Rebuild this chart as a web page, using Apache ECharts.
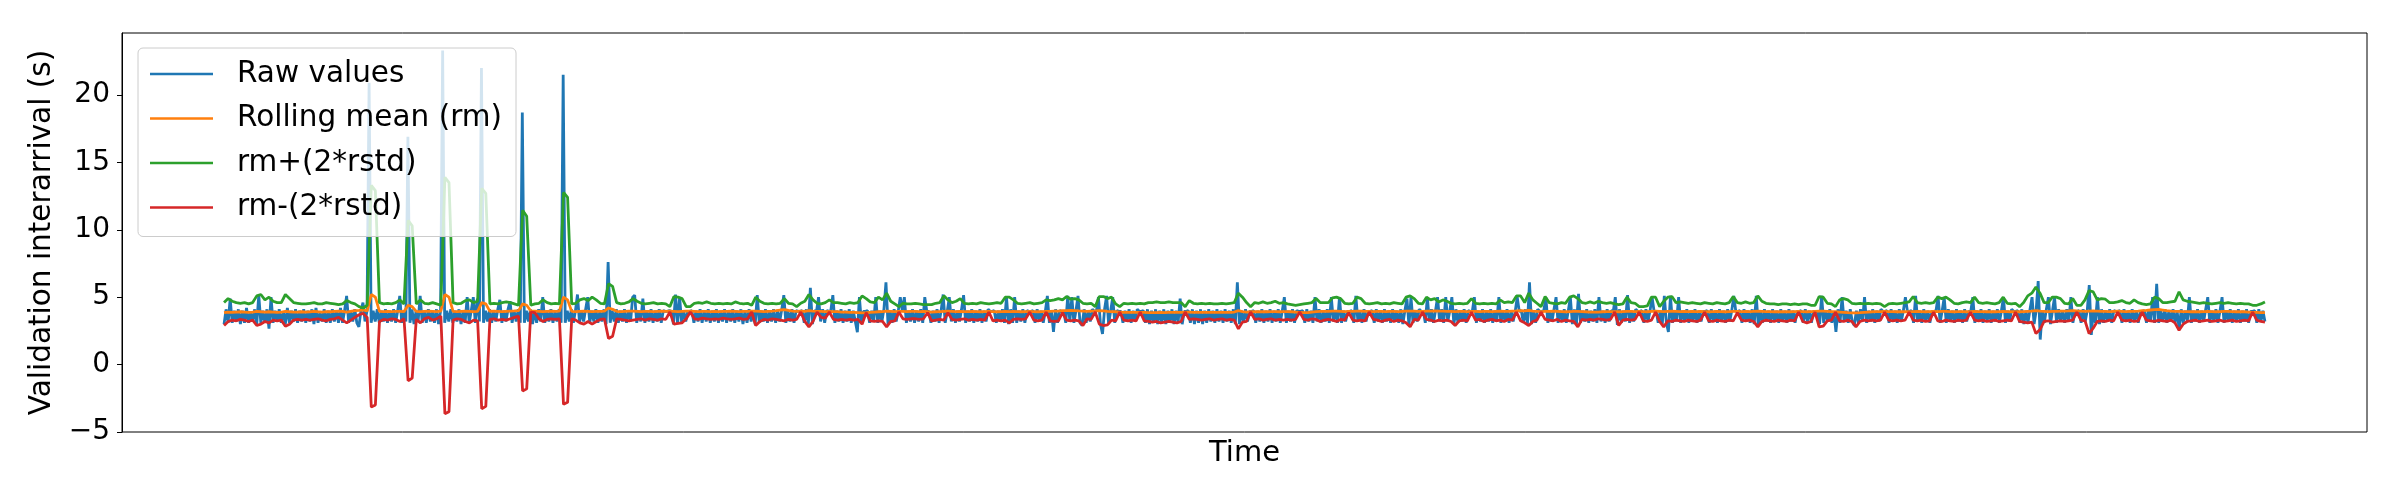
<!DOCTYPE html>
<html>
<head>
<meta charset="utf-8">
<title>Validation interarrival</title>
<script src="https://cdn.jsdelivr.net/npm/echarts@6.0.0/dist/echarts.min.js"></script>
<style>
  html, body { margin: 0; padding: 0; background: #fff; }
  #chart { width: 2400px; height: 500px; }
</style>
</head>
<body>
<div id="chart"></div>
<script>
  // raw interarrival values (1000 samples)
  const rawValues = [
    3.0,4.1,3.1,4.9,3.1,4.0,3.2,4.1,3.0,4.0,3.1,4.2,3.1,3.9,3.2,4.1,3.0,5.15,3.1,4.0,
    3.1,4.1,2.67,5.0,3.1,4.0,3.2,4.1,3.1,3.9,3.0,4.2,3.1,4.0,3.2,4.1,3.1,4.0,3.2,4.1,
    3.1,4.0,3.2,4.1,3.0,4.2,3.1,3.9,3.2,4.1,3.1,4.0,3.1,4.1,3.2,4.0,3.1,4.2,3.1,4.0,
    5.1,3.1,4.0,3.2,4.1,3.1,2.8,4.0,4.6,3.2,4.0,20.9,3.1,4.0,3.2,4.1,3.1,4.0,3.2,4.1,
    3.1,4.0,3.2,4.1,3.1,4.0,5.1,3.1,4.0,3.2,16.9,3.1,4.1,3.0,4.0,3.2,5.1,3.1,4.0,3.1,
    4.1,3.2,4.0,3.1,4.1,3.0,4.0,23.3,3.1,4.0,3.2,4.1,3.1,4.0,3.2,4.1,3.0,4.0,3.1,5.0,
    3.1,4.0,5.0,3.1,4.9,3.2,22.0,3.1,4.0,3.2,4.1,3.1,4.0,3.2,4.1,4.8,3.1,4.0,3.2,4.1,
    4.7,3.1,4.0,3.2,4.1,3.1,18.7,3.1,4.0,3.2,4.1,3.0,4.0,3.1,4.1,3.2,5.0,3.1,4.0,3.2,
    4.1,3.1,4.0,3.2,4.1,3.1,21.5,3.1,4.0,3.2,4.1,3.1,4.0,5.2,3.1,4.0,3.2,4.1,5.0,3.1,
    4.0,3.2,4.1,3.1,4.0,3.2,4.1,3.0,7.6,3.1,4.0,3.2,4.1,3.1,4.0,3.2,4.1,3.1,4.0,3.2,
    5.0,5.15,3.1,4.0,3.2,4.9,3.1,4.0,3.2,4.1,3.1,4.0,3.2,4.1,3.1,4.0,3.95,3.95,4.0,3.95,
    3.0,5.2,3.0,5.0,3.1,4.0,3.2,3.95,3.95,4.0,3.1,4.0,3.2,4.1,3.1,4.0,3.2,4.1,3.1,4.0,
    3.2,4.1,3.1,4.0,3.2,4.1,3.1,4.0,3.2,4.1,3.1,4.0,3.2,4.1,3.0,4.0,3.1,4.1,3.2,3.95,
    3.0,5.15,3.1,4.0,3.2,4.1,3.1,4.0,3.2,4.1,3.1,4.0,3.2,4.1,5.15,3.1,4.0,3.2,4.1,3.1,
    4.0,3.95,3.95,4.0,3.1,4.1,3.0,5.7,3.0,4.0,3.95,5.0,3.2,4.1,3.1,4.0,3.95,4.0,5.15,3.1,
    4.0,3.2,4.1,3.1,4.0,3.2,4.1,3.1,4.0,3.2,2.4,5.0,3.1,3.95,3.95,4.0,3.1,4.0,3.2,5.0,
    3.1,4.0,3.2,4.1,6.1,3.0,4.0,3.1,4.1,3.2,3.95,5.0,4.0,5.0,3.1,4.0,3.2,4.1,3.1,4.0,
    3.2,4.1,3.1,5.0,3.95,3.95,3.1,4.0,3.2,4.1,3.1,4.0,5.2,3.1,3.95,5.0,3.2,4.1,3.1,4.0,
    3.2,4.1,5.15,3.1,4.0,3.2,4.1,3.1,4.0,3.2,4.1,3.1,4.0,3.2,4.1,3.95,3.95,4.0,3.1,4.0,
    3.2,4.1,3.1,5.0,3.0,4.1,3.1,5.0,3.1,4.0,3.2,4.1,3.1,4.0,3.95,3.95,4.0,3.1,4.1,3.2,
    4.0,3.1,3.95,5.1,3.1,4.0,2.42,4.1,3.1,4.0,3.95,3.95,3.1,5.1,3.2,5.0,3.1,4.0,5.1,3.1,
    2.9,4.1,3.1,4.0,3.2,4.1,3.95,3.95,5.0,3.0,2.27,4.1,5.1,3.0,4.0,5.0,3.1,4.0,3.95,3.95,
    3.1,4.0,3.2,4.1,3.1,4.0,3.2,4.1,3.95,3.95,4.0,3.1,4.1,3.0,4.0,3.1,4.1,3.0,4.0,3.1,
    4.1,3.0,4.0,3.1,4.1,3.0,4.0,3.1,4.9,3.0,3.95,3.95,4.0,3.1,4.1,3.0,4.0,3.1,4.1,3.0,
    4.0,3.1,4.1,3.2,4.0,3.1,4.1,3.2,4.0,3.1,4.1,3.2,4.0,3.1,4.1,3.0,6.1,3.0,4.0,3.1,
    4.1,3.2,3.95,3.95,4.0,3.1,4.0,3.2,4.1,3.1,4.0,3.2,4.1,3.1,4.0,3.2,4.1,3.1,4.0,5.0,
    3.1,4.0,3.2,4.1,3.1,4.0,3.95,3.95,4.0,3.1,4.1,3.2,4.0,3.1,5.0,3.2,4.1,3.1,4.0,3.2,
    4.1,3.1,5.0,3.2,4.0,3.1,5.0,3.1,4.0,3.2,3.95,3.95,4.0,3.1,5.1,3.2,4.0,3.1,4.1,3.2,
    3.95,3.95,4.0,3.1,4.1,3.2,4.0,3.1,4.1,3.2,4.0,3.1,4.1,3.2,4.0,3.1,4.1,3.0,4.0,4.9,
    2.9,5.0,3.1,4.0,3.2,4.1,3.95,3.95,3.1,5.0,3.2,4.1,3.1,4.0,5.0,3.2,4.1,3.1,5.0,3.2,
    4.0,5.0,3.0,4.1,3.1,4.0,3.2,4.1,3.1,4.0,3.95,3.95,5.0,3.1,4.0,3.2,4.1,3.1,4.0,3.2,
    4.1,3.1,4.0,3.2,5.0,3.1,4.0,3.2,4.1,3.1,4.0,3.2,3.95,5.0,3.95,4.0,3.1,4.1,3.0,6.1,
    3.0,4.0,3.1,4.1,3.95,3.95,4.0,5.0,3.1,4.0,3.2,4.1,5.0,3.1,4.0,3.2,4.1,3.1,4.0,5.0,
    3.0,4.1,3.0,5.25,3.1,4.0,3.2,4.1,3.1,4.0,3.2,4.1,3.1,5.0,3.2,4.0,3.1,4.1,3.2,4.0,
    3.95,5.0,2.95,4.1,3.1,4.0,3.2,5.15,3.1,4.0,3.2,4.1,3.95,3.95,4.0,3.1,4.1,3.2,4.0,5.0,
    3.95,3.95,3.1,4.0,3.0,5.1,3.1,2.42,5.1,3.1,4.0,3.2,5.0,3.1,4.0,3.2,4.1,3.1,4.0,3.2,
    4.1,3.1,4.0,3.2,3.95,3.95,4.0,3.1,4.1,3.2,4.0,3.1,4.1,3.2,4.0,3.1,4.1,3.2,4.0,5.1,
    3.95,3.95,4.0,3.1,4.1,3.2,4.0,3.1,4.1,3.0,5.1,2.9,4.0,3.1,4.1,3.2,4.0,3.1,4.1,3.2,
    4.0,3.1,4.1,3.2,4.0,3.1,4.1,3.2,4.0,3.1,3.95,3.95,4.0,3.1,4.1,3.2,4.0,3.1,3.95,3.95,
    3.95,3.0,5.1,3.1,4.0,3.2,4.1,3.1,3.95,2.42,4.1,3.1,5.0,3.2,4.0,3.1,4.1,3.2,2.9,4.0,
    3.1,4.1,3.2,5.0,3.1,4.0,3.2,4.1,3.1,4.0,3.2,4.1,3.95,3.95,4.0,3.1,4.1,3.2,4.0,3.1,
    4.1,3.2,4.0,5.0,3.95,3.95,4.0,3.1,5.1,3.2,4.0,3.1,4.1,3.2,4.0,3.1,3.95,3.95,4.0,5.1,
    3.1,4.0,5.0,3.1,4.1,3.2,4.0,3.1,4.1,3.2,4.0,3.1,4.1,3.2,3.95,3.95,5.0,3.1,4.0,3.2,
    4.1,3.1,4.0,3.2,4.1,3.1,4.0,3.2,4.1,3.1,4.0,5.0,3.1,4.0,3.2,4.1,3.95,3.95,4.0,3.1,
    4.1,3.0,4.0,3.1,4.1,5.0,3.0,4.0,6.2,1.86,4.0,3.1,4.1,5.0,3.0,4.0,5.0,3.1,4.1,3.2,
    4.0,3.1,4.1,3.2,5.0,3.1,3.95,3.95,4.0,3.1,4.1,3.2,4.0,5.9,2.2,4.0,3.1,5.0,3.0,4.1,
    3.1,4.0,3.2,4.1,3.1,4.0,3.95,3.95,4.0,3.1,4.1,3.2,4.0,3.1,4.1,3.2,4.0,3.1,3.95,3.95,
    4.0,3.1,4.1,3.2,5.0,3.1,6.0,3.1,4.0,3.2,4.1,3.1,4.0,3.2,4.1,3.1,4.0,2.6,4.1,3.1,
    4.0,3.2,5.0,3.1,4.0,3.2,4.1,3.1,4.0,3.2,4.1,5.0,3.1,4.0,3.2,4.1,3.1,4.0,5.0,3.1,
    4.0,3.2,4.1,3.1,4.0,3.2,4.1,3.1,4.0,3.2,4.1,3.1,3.95,3.95,4.0,3.1,4.1,3.2,4.0,3.2
  ];

  // rolling statistics (500 samples spread over the same time span)
  const rollMean = [
    3.85,3.9,3.88,3.9,3.92,3.9,3.88,3.9,3.95,3.92,
    3.9,3.92,3.9,3.88,3.9,3.95,3.92,3.9,3.9,3.92,
    3.9,3.92,3.95,3.92,3.9,3.93,3.92,3.95,3.97,3.95,
    3.9,3.95,4.0,4.02,4.05,3.98,5.2,5.0,3.95,3.93,
    3.95,3.93,3.95,3.95,3.93,4.4,4.3,3.95,3.93,3.95,
    3.97,3.95,3.93,3.97,5.2,5.0,3.95,3.93,3.95,3.97,
    3.95,3.93,3.95,4.6,4.5,3.95,3.97,3.95,3.93,3.95,
    3.97,3.98,4.0,4.5,4.4,3.98,3.97,3.95,3.93,3.95,
    3.97,3.95,3.97,5.0,4.8,3.95,3.93,3.95,3.97,3.95,
    3.93,3.95,3.95,3.97,4.2,4.1,3.95,3.93,3.95,3.97,
    3.97,3.95,3.93,3.95,3.95,3.93,3.95,3.97,3.95,3.97,
    3.95,3.93,3.95,3.97,3.97,3.95,3.93,3.95,3.95,3.93,
    3.95,3.93,3.95,3.95,3.97,3.95,3.93,3.95,3.95,3.97,
    3.97,3.95,3.93,3.95,3.97,4.0,4.05,4.08,4.02,3.97,
    3.95,3.97,3.95,4.0,3.97,3.95,3.95,3.93,3.95,3.93,
    3.93,3.9,3.9,3.88,3.87,3.85,3.83,3.85,3.88,3.9,
    3.92,3.93,3.97,3.95,3.93,3.95,3.95,3.93,3.95,3.95,
    3.93,3.95,3.93,3.9,3.92,3.93,3.95,3.97,3.95,3.93,
    3.95,3.93,3.93,3.95,3.93,3.92,3.93,3.95,3.93,3.92,
    3.93,3.95,3.93,3.95,3.93,3.92,3.93,3.95,3.93,3.92,
    3.93,3.95,3.95,3.97,3.97,4.0,4.0,4.02,4.0,3.98,
    3.97,3.95,3.97,3.98,4.0,3.98,3.95,3.93,3.92,3.9,
    3.88,3.87,3.88,3.87,3.88,3.87,3.86,3.85,3.86,3.87,
    3.86,3.87,3.88,3.87,3.88,3.9,3.9,3.88,3.87,3.88,
    3.87,3.88,3.88,3.87,3.88,3.87,3.88,3.9,4.0,3.93,
    3.9,3.92,3.93,3.92,3.93,3.92,3.93,3.93,3.92,3.93,
    3.93,3.92,3.9,3.88,3.85,3.86,3.9,3.93,3.95,3.95,
    3.95,3.97,3.97,3.95,3.93,3.95,3.95,3.97,3.97,3.95,
    3.95,3.93,3.95,3.95,3.93,3.95,3.95,3.93,3.95,3.97,
    3.97,3.97,3.95,3.95,3.97,3.97,3.98,3.97,3.97,3.95,
    3.95,3.93,3.95,3.95,3.93,3.95,3.95,3.93,3.95,3.95,
    3.93,3.95,3.97,3.95,3.95,3.97,3.98,4.0,3.98,4.02,
    3.97,3.95,3.93,3.95,3.95,3.97,3.95,3.93,3.92,3.93,
    3.95,3.95,3.93,3.92,3.9,3.9,3.9,3.92,3.93,3.93,
    3.93,3.92,3.93,3.95,3.95,3.93,3.95,3.93,3.92,3.95,
    3.97,3.95,3.93,3.95,3.97,3.95,3.93,3.95,3.93,3.95,
    3.93,3.95,3.93,3.92,3.93,3.95,3.93,3.92,3.93,3.95,
    3.95,3.93,3.95,3.93,3.95,3.97,3.95,3.93,3.93,3.92,
    3.93,3.92,3.93,3.92,3.93,3.95,3.93,3.92,3.93,3.95,
    3.97,3.97,3.95,3.93,3.92,3.9,3.88,3.85,3.83,3.83,
    3.85,3.88,3.9,3.92,3.93,3.93,3.95,3.93,3.93,3.92,
    3.93,3.92,3.93,3.93,3.95,3.93,3.92,3.93,3.95,3.93,
    3.95,3.95,3.93,3.92,3.93,3.93,3.92,3.93,3.95,3.93,
    3.93,3.92,3.93,3.92,3.93,3.95,3.93,3.92,3.93,3.92,
    3.93,3.95,3.97,4.0,3.97,3.95,3.93,3.95,3.95,3.97,
    3.97,3.98,4.0,3.98,3.97,3.95,3.97,3.98,3.97,3.95,
    3.95,3.93,3.95,3.97,3.95,3.93,3.95,3.95,3.97,4.0,
    4.02,4.05,4.08,4.1,4.05,4.0,3.97,3.95,3.95,3.93,
    3.93,3.92,3.93,3.92,3.93,3.95,3.93,3.92,3.93,3.95,
    3.95,3.93,3.92,3.93,3.92,3.9,3.88,3.87,3.86,3.85
  ];

  const rollUpper = [
    4.6,4.9,4.7,4.6,4.55,4.6,4.5,4.6,5.1,5.2,
    4.8,5.0,4.7,4.6,4.6,5.2,4.9,4.6,4.55,4.5,
    4.5,4.55,4.6,4.5,4.5,4.6,4.55,4.5,4.45,4.5,
    4.75,4.6,4.5,4.3,4.2,4.4,13.3,12.9,4.6,4.5,
    4.55,4.5,4.6,4.8,4.5,10.7,10.3,4.5,4.8,4.55,
    4.5,4.6,4.5,4.4,13.9,13.5,4.6,4.5,4.55,4.75,
    4.8,4.6,4.7,13.07,12.7,4.5,4.55,4.5,4.6,4.65,
    4.6,4.5,4.4,11.45,11.0,4.4,4.5,4.55,4.8,4.6,
    4.5,4.55,4.5,12.77,12.4,4.5,4.55,4.8,4.9,4.75,
    5.0,4.8,4.55,4.5,6.0,5.8,4.6,4.5,4.55,4.65,
    4.9,4.7,4.55,4.5,4.55,4.6,4.5,4.55,4.5,4.3,
    5.05,5.0,4.9,4.3,4.3,4.55,4.6,4.55,4.65,4.55,
    4.5,4.55,4.5,4.55,4.5,4.65,4.55,4.5,4.55,4.4,
    5.0,4.7,4.55,4.5,4.55,4.5,4.55,4.9,4.55,4.5,
    4.3,4.55,4.7,5.2,4.8,4.55,4.5,4.6,4.8,4.6,
    4.6,4.55,4.5,4.6,4.55,4.6,5.1,4.9,4.65,4.6,
    5.0,4.8,5.3,4.7,4.5,4.3,4.55,4.5,4.5,4.55,
    4.5,4.45,4.45,4.45,4.55,4.6,5.1,4.8,4.6,4.7,
    4.9,4.55,4.5,4.55,4.5,4.6,4.55,4.5,4.55,4.6,
    4.55,5.0,5.0,4.8,4.55,4.5,4.55,4.6,4.5,4.55,
    4.6,4.8,4.75,4.8,4.9,4.8,5.05,4.85,4.9,4.8,
    4.55,4.5,4.55,4.3,5.05,5.05,4.9,5.0,4.5,4.3,
    4.55,4.5,4.55,4.5,4.55,4.5,4.6,4.6,4.65,4.6,
    4.6,4.65,4.6,4.6,4.6,4.3,4.75,4.55,4.5,4.55,
    4.5,4.55,4.5,4.5,4.55,4.5,4.55,4.6,5.3,5.0,
    4.6,4.3,4.6,4.55,4.65,4.55,4.6,4.7,4.55,4.6,
    4.5,4.45,4.4,4.45,4.5,4.55,4.6,4.9,4.6,4.6,
    4.6,4.95,5.0,4.9,4.55,4.5,4.55,5.0,4.9,4.55,
    4.5,4.55,4.6,4.5,4.55,4.5,4.6,4.55,4.5,5.0,
    5.1,4.9,4.55,4.5,5.0,4.8,4.9,4.65,4.8,4.7,
    4.55,4.5,4.55,4.5,4.55,4.9,4.55,4.5,4.55,4.5,
    4.55,4.5,4.8,4.6,4.65,4.6,5.1,5.1,4.6,5.3,
    4.8,4.55,4.3,5.05,4.6,4.55,4.5,4.6,4.55,5.0,
    5.1,4.9,4.6,4.55,4.65,4.55,4.7,4.6,4.55,4.6,
    4.5,4.45,4.5,5.0,4.6,4.55,4.3,4.3,4.35,5.0,
    5.0,4.3,4.7,5.0,5.05,4.6,4.65,4.6,4.55,4.6,
    4.55,4.5,4.6,4.55,4.5,4.6,4.55,4.5,4.6,5.05,
    4.6,4.55,4.65,4.55,4.6,5.1,4.7,4.55,4.5,4.5,
    4.45,4.5,4.5,4.45,4.5,4.45,4.5,4.5,4.4,4.4,
    5.05,5.0,4.55,4.5,4.3,4.8,4.9,4.8,4.55,4.5,
    4.55,4.5,4.55,4.5,4.55,4.5,4.3,4.5,4.55,4.5,
    4.55,4.6,4.65,5.05,4.6,4.55,4.6,4.55,4.6,5.0,
    4.9,5.0,4.8,4.55,4.5,4.6,4.65,4.6,5.0,4.6,
    4.55,4.6,4.55,4.5,4.6,5.0,4.55,4.5,4.55,4.3,
    4.6,5.1,5.3,5.76,5.3,4.6,4.6,5.0,5.0,4.9,
    4.55,4.5,4.9,4.4,4.4,4.8,5.5,5.4,4.8,4.9,
    4.85,4.6,4.6,4.65,4.75,4.6,4.55,4.8,4.6,4.5,
    4.45,4.5,5.0,4.9,4.6,4.6,4.65,4.7,5.4,4.8,
    4.7,4.65,4.6,4.55,4.6,4.55,4.5,4.55,4.6,4.55,
    4.6,4.55,4.5,4.55,4.5,4.5,4.4,4.4,4.5,4.65
  ];

  const rollLower = [
    2.9,3.2,3.3,3.25,3.35,3.3,3.2,3.3,2.9,3.0,
    3.2,3.1,3.3,3.25,3.3,2.85,3.0,3.3,3.35,3.3,
    3.35,3.3,3.35,3.4,3.3,3.25,3.35,3.4,3.5,3.3,
    3.1,3.3,3.5,3.7,3.8,3.5,-3.15,-3.0,3.2,3.35,
    3.3,3.4,3.35,3.2,3.4,-1.2,-1.0,3.35,3.1,3.4,
    3.5,3.3,3.4,3.6,-3.64,-3.5,3.3,3.4,3.35,3.2,
    3.1,3.3,3.25,-3.27,-3.1,3.35,3.4,3.3,3.35,3.3,
    3.4,3.5,3.6,-1.96,-1.8,3.9,3.85,3.4,3.2,3.35,
    3.4,3.35,3.4,-2.95,-2.8,3.4,3.3,3.1,3.0,3.2,
    3.0,3.2,3.35,3.4,1.93,2.1,3.4,3.35,3.3,3.25,
    3.3,3.35,3.4,3.3,3.4,3.35,3.3,3.4,3.35,3.9,
    3.0,3.05,3.1,3.4,3.9,3.4,3.35,3.45,3.4,3.35,
    3.4,3.35,3.45,3.4,3.35,3.4,3.45,3.35,3.4,3.9,
    2.9,3.2,3.35,3.3,3.4,3.35,3.3,3.25,3.35,3.3,
    3.35,3.9,3.2,2.8,3.2,3.9,3.5,3.45,3.9,3.35,
    3.3,3.35,3.3,3.35,3.3,3.35,3.0,3.85,3.25,3.2,
    3.25,3.2,2.8,3.2,3.25,3.9,3.4,3.35,3.4,3.4,
    3.35,3.4,3.85,3.25,3.3,3.35,3.3,3.85,3.35,3.3,
    3.35,3.4,3.3,3.35,3.3,3.35,3.3,3.9,3.25,3.3,
    3.25,3.3,3.1,3.35,3.4,3.35,3.4,3.9,3.3,3.25,
    3.3,3.9,3.25,3.2,3.25,3.85,3.3,3.25,3.3,3.25,
    2.9,3.4,3.35,3.9,3.0,2.9,2.95,3.3,3.25,3.9,
    3.3,3.25,3.3,3.25,3.9,3.25,3.2,3.15,3.2,3.1,
    3.15,3.2,3.15,3.1,3.2,3.9,3.35,3.4,3.35,3.3,
    3.35,3.4,3.3,3.35,3.4,3.3,3.35,3.3,2.65,3.15,
    3.2,3.9,3.35,3.4,3.3,3.35,3.4,3.3,3.35,3.3,
    3.35,3.3,3.35,3.9,3.35,3.3,3.4,3.35,3.2,3.3,
    3.35,3.3,3.2,3.35,3.3,3.85,3.3,3.25,3.3,3.25,
    3.9,3.35,3.3,3.2,3.3,3.35,3.2,3.3,3.25,3.1,
    2.8,3.35,3.3,3.9,3.35,3.3,3.2,3.3,3.25,3.3,
    3.2,2.9,3.25,3.3,3.25,3.9,3.3,3.35,3.2,3.3,
    3.35,3.25,3.3,3.2,3.35,3.3,3.9,3.25,3.1,2.9,
    3.2,3.3,3.9,3.35,3.3,3.25,3.35,3.2,3.3,3.25,
    3.2,2.8,3.35,3.3,3.35,3.3,3.4,3.35,3.3,3.35,
    3.9,2.9,3.3,3.35,3.3,3.35,3.9,3.25,3.2,3.3,
    3.9,3.2,2.8,3.25,3.2,3.3,3.25,3.2,3.3,3.25,
    3.2,3.3,3.9,3.25,3.2,3.3,3.25,3.2,3.3,3.25,
    3.85,3.3,3.25,3.3,3.2,2.8,3.2,3.3,3.25,3.2,
    3.3,3.25,3.2,3.3,3.25,3.9,3.2,3.1,3.2,3.9,
    2.8,2.85,3.25,3.3,3.9,3.25,3.2,3.3,3.2,2.8,
    3.2,3.3,3.25,3.3,3.25,3.3,3.9,3.3,3.25,3.3,
    3.25,3.3,3.9,3.3,3.25,3.3,3.2,3.25,3.9,3.25,
    3.2,3.3,3.25,3.2,3.3,3.25,3.3,3.9,3.3,3.25,
    3.3,3.2,3.25,3.3,3.2,3.25,3.3,3.25,3.9,3.2,
    3.15,3.1,3.15,2.3,2.6,3.2,3.25,3.15,3.2,3.25,
    3.2,3.25,3.3,3.9,3.3,3.25,2.3,2.7,3.2,3.25,
    3.2,3.3,3.25,3.9,3.3,3.25,3.3,3.2,3.25,3.9,
    3.3,3.25,3.2,3.3,3.25,3.2,3.3,3.1,2.55,3.0,
    3.2,3.25,3.3,3.2,3.25,3.3,3.2,3.25,3.3,3.2,
    3.25,3.3,3.2,3.25,3.3,3.25,3.9,3.3,3.2,3.15
  ];

  const seriesNames = ['Raw values', 'Rolling mean (rm)', 'rm+(2*rstd)', 'rm-(2*rstd)'];
  const seriesColors = ['#1f77b4', '#ff7f0e', '#2ca02c', '#d62728'];
  const yTicks = [-5, 0, 5, 10, 15, 20];

  const font = 'DejaVu Sans';
  const chart = echarts.init(document.getElementById('chart'), null, { renderer: 'canvas' });

  // raw samples sit on integer times, rolling samples are spread over the same span
  const step = (rawValues.length - 1) / (rollMean.length - 1);
  const rawData = rawValues.map((v, j) => [j, v]);
  const toPairs = (arr) => arr.map((v, i) => [i * step, v]);
  const span = rawValues.length - 1;

  const makeLine = (name, data, color) => ({
    name: name,
    type: 'line',
    data: data,
    symbol: 'none',
    showSymbol: false,
    lineStyle: { color: color, width: 2.8 },
    itemStyle: { color: color },
    emphasis: { disabled: true },
  });

  const option = {
    animation: false,
    backgroundColor: '#fff',
    grid: {
      left: 122,
      right: 33,
      top: 33,
      bottom: 68,
      show: true,
      borderColor: '#000',
      borderWidth: 1,
      backgroundColor: 'transparent',
    },
    legend: {
      orient: 'vertical',
      left: 138,
      top: 48,
      padding: [11, 14, 14, 12],
      icon: 'rect',
      itemWidth: 63,
      itemHeight: 2.5,
      itemGap: 14.5,
      backgroundColor: 'rgba(255,255,255,0.8)',
      borderColor: '#cccccc',
      borderWidth: 1,
      borderRadius: 5,
      textStyle: {
        fontFamily: font,
        fontSize: 29.5,
        lineHeight: 30,
        color: '#000',
        padding: [0, 0, 0, 19],
      },
      data: seriesNames,
    },
    xAxis: {
      type: 'value',
      min: -0.05 * span,
      max: 1.05 * span,
      name: 'Time',
      nameLocation: 'middle',
      nameGap: 7,
      nameTextStyle: { fontFamily: font, fontSize: 29, color: '#000', verticalAlign: 'top' },
      axisLine: { show: false, onZero: false },
      axisTick: { show: false },
      axisLabel: { show: false },
      splitLine: { show: false },
    },
    yAxis: {
      type: 'value',
      min: -5,
      max: 24.6,
      interval: 5,
      name: 'Validation interarrival (s)',
      nameLocation: 'middle',
      nameRotate: 90,
      nameGap: 54,
      nameTextStyle: { fontFamily: font, fontSize: 29.5, color: '#000' },
      axisLine: { show: true, onZero: false, lineStyle: { color: '#000', width: 1 } },
      axisTick: { show: true, length: 5, customValues: yTicks, lineStyle: { color: '#000', width: 1 } },
      axisLabel: {
        customValues: yTicks,
        margin: 12,
        fontFamily: font,
        fontSize: 28,
        color: '#000',
        formatter: (v) => String(v).replace('-', '\u2212'),
      },
      splitLine: { show: false },
    },
    series: [
      makeLine(seriesNames[0], rawData, seriesColors[0]),
      makeLine(seriesNames[1], toPairs(rollMean), seriesColors[1]),
      makeLine(seriesNames[2], toPairs(rollUpper), seriesColors[2]),
      makeLine(seriesNames[3], toPairs(rollLower), seriesColors[3]),
    ],
  };

  chart.setOption(option);
</script>
</body>
</html>
